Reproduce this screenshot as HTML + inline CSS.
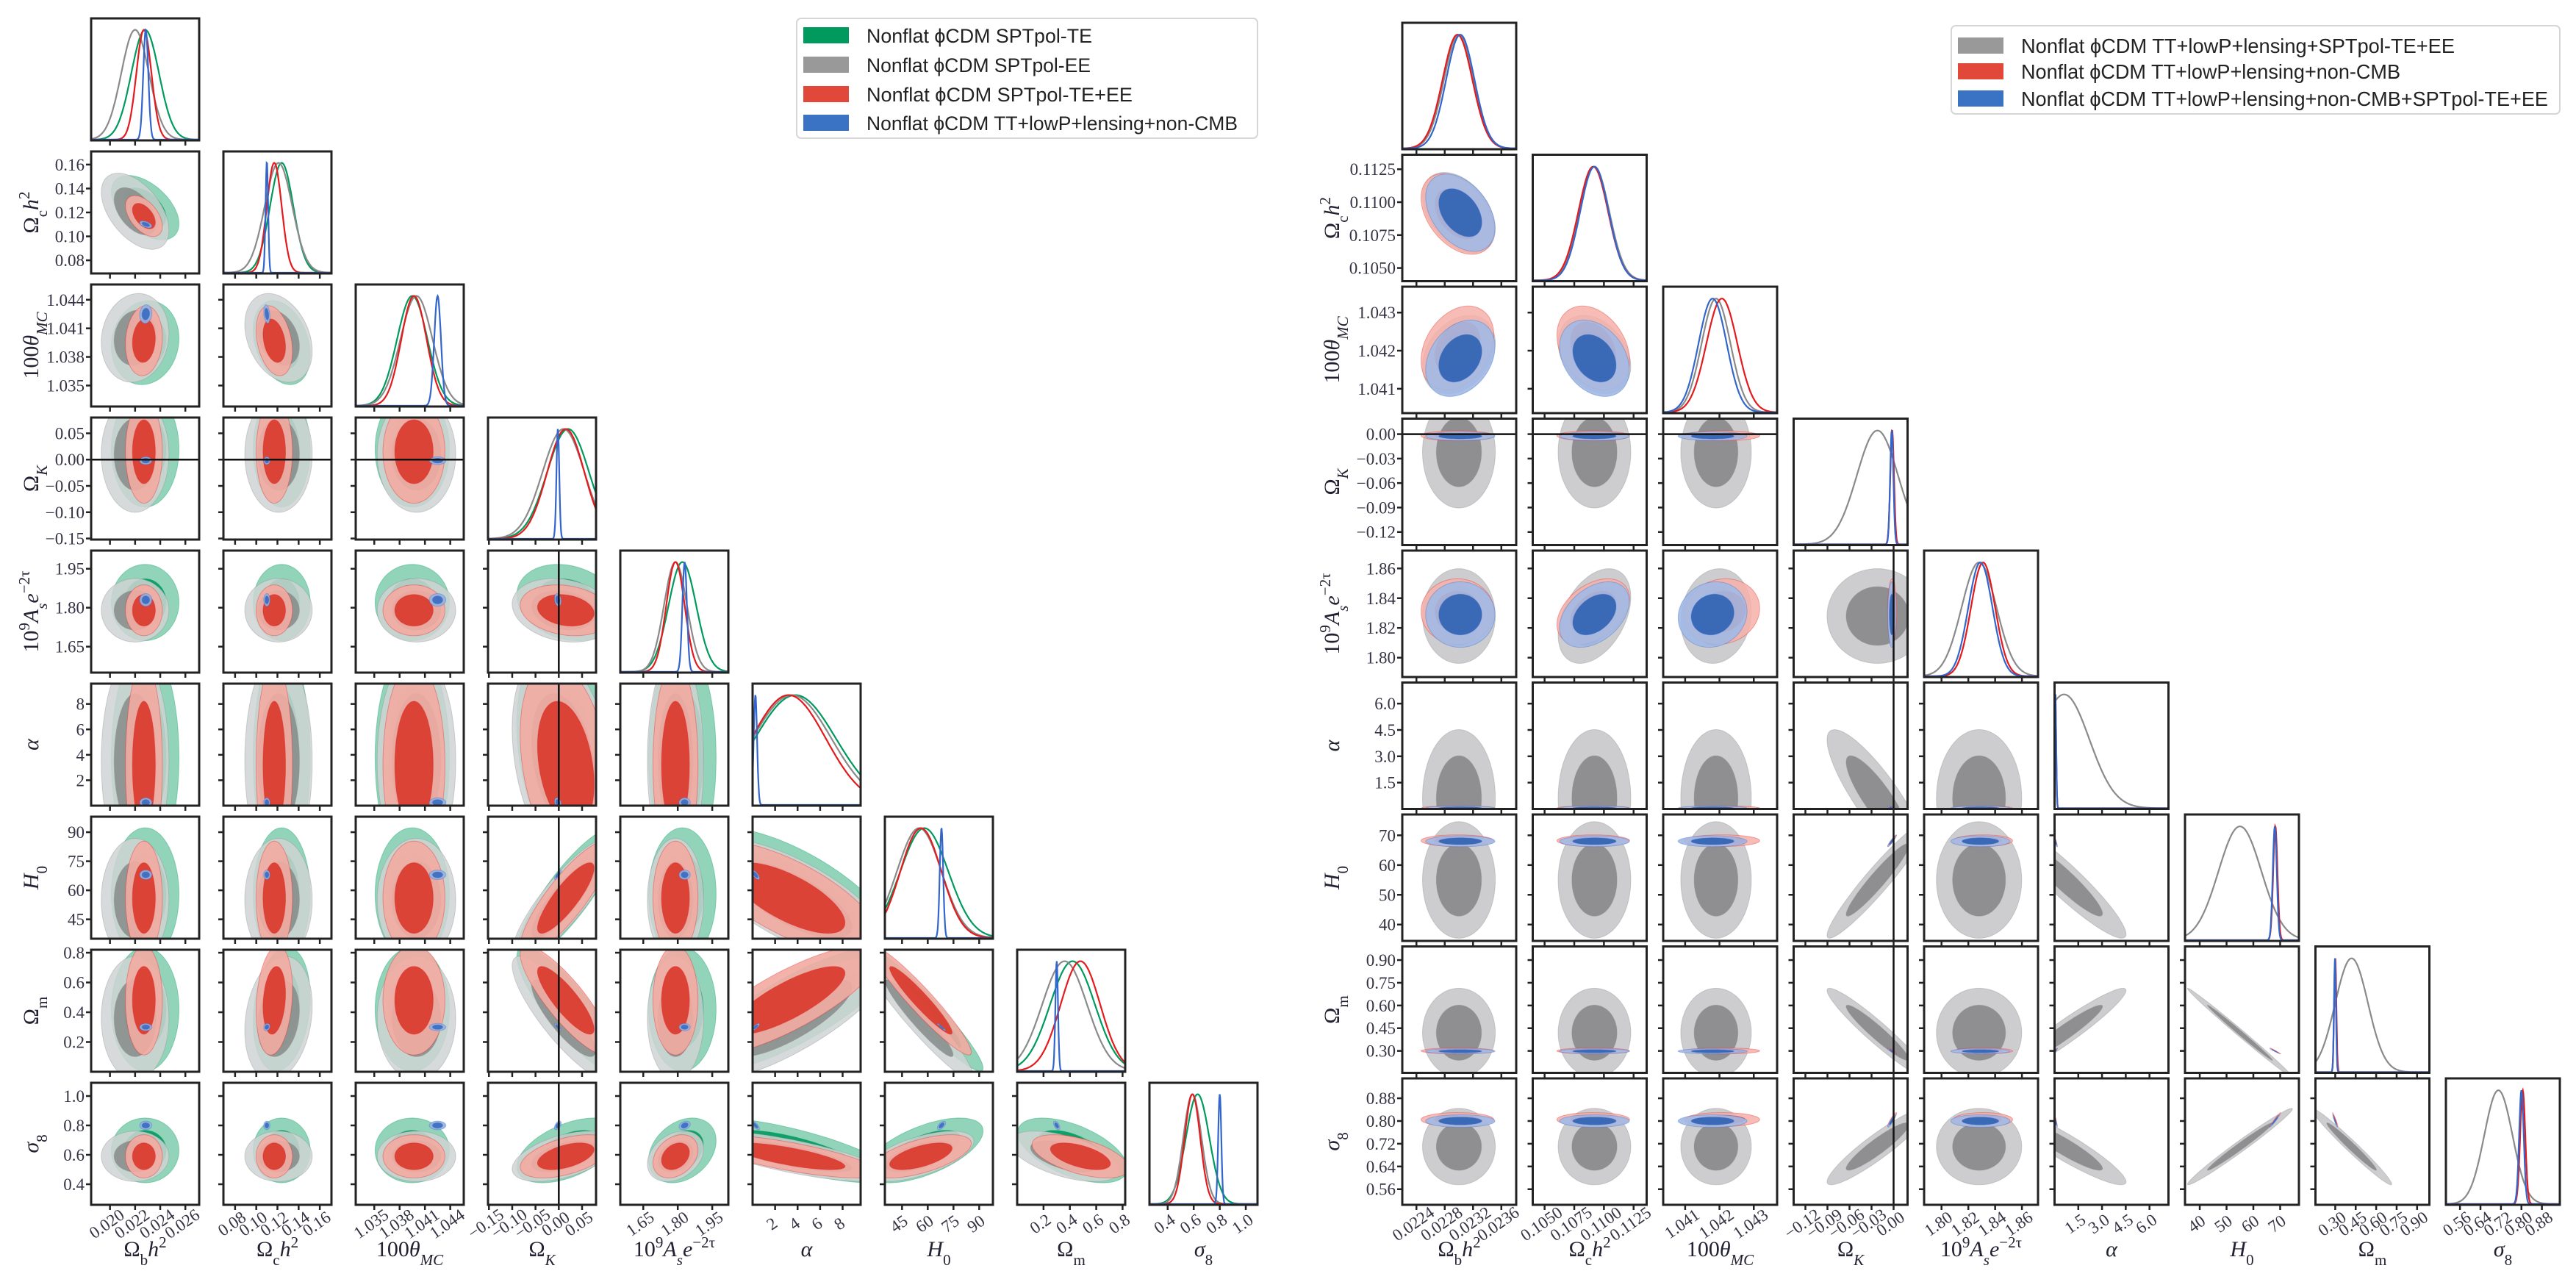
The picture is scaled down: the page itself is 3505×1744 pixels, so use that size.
<!DOCTYPE html>
<html><head><meta charset="utf-8">
<style>
html,body{margin:0;padding:0;background:#fff;}
svg{display:block;}
text{font-family:"Liberation Serif",serif;}
.leg{font-family:"Liberation Sans",sans-serif;}
</style></head>
<body>
<svg id="fig" width="3505" height="1744" viewBox="0 0 3505 1744" xmlns="http://www.w3.org/2000/svg">
<rect x="0" y="0" width="3505" height="1744" fill="#fff"/>
<g>
<rect x="1084" y="25" width="627" height="163" rx="6" fill="#fff" stroke="#d6d6d6" stroke-width="2"/>
<rect x="1093" y="37" width="62" height="22" fill="#009a5e"/>
<text class="leg" x="1179" y="58" font-size="27" fill="#222" textLength="307" lengthAdjust="spacingAndGlyphs">Nonflat ϕCDM SPTpol-TE</text>
<rect x="1093" y="77" width="62" height="22" fill="#999"/>
<text class="leg" x="1179" y="98" font-size="27" fill="#222" textLength="305" lengthAdjust="spacingAndGlyphs">Nonflat ϕCDM SPTpol-EE</text>
<rect x="1093" y="117" width="62" height="22" fill="#e2483a"/>
<text class="leg" x="1179" y="138" font-size="27" fill="#222" textLength="362" lengthAdjust="spacingAndGlyphs">Nonflat ϕCDM SPTpol-TE+EE</text>
<rect x="1093" y="156" width="62" height="22" fill="#3b73c4"/>
<text class="leg" x="1179" y="177" font-size="27" fill="#222" textLength="505" lengthAdjust="spacingAndGlyphs">Nonflat ϕCDM TT+lowP+lensing+non-CMB</text>
</g>
<g>
<rect x="2655" y="35" width="828" height="120" rx="6" fill="#fff" stroke="#d6d6d6" stroke-width="2"/>
<rect x="2664" y="51" width="62" height="22" fill="#999"/>
<text class="leg" x="2750" y="72" font-size="28" fill="#222" textLength="590" lengthAdjust="spacingAndGlyphs">Nonflat ϕCDM TT+lowP+lensing+SPTpol-TE+EE</text>
<rect x="2664" y="86" width="62" height="22" fill="#e2483a"/>
<text class="leg" x="2750" y="107" font-size="28" fill="#222" textLength="516" lengthAdjust="spacingAndGlyphs">Nonflat ϕCDM TT+lowP+lensing+non-CMB</text>
<rect x="2664" y="123" width="62" height="22" fill="#3b73c4"/>
<text class="leg" x="2750" y="144" font-size="28" fill="#222" textLength="717" lengthAdjust="spacingAndGlyphs">Nonflat ϕCDM TT+lowP+lensing+non-CMB+SPTpol-TE+EE</text>
</g>
</svg>
<script>
const paramLabels = [
 'Ω<tspan baseline-shift="sub" font-size="70%">b</tspan><tspan font-style="italic">h</tspan><tspan baseline-shift="super" font-size="70%">2</tspan>',
 'Ω<tspan baseline-shift="sub" font-size="70%">c</tspan><tspan font-style="italic">h</tspan><tspan baseline-shift="super" font-size="70%">2</tspan>',
 '100<tspan font-style="italic">θ</tspan><tspan baseline-shift="sub" font-size="70%" font-style="italic">MC</tspan>',
 'Ω<tspan baseline-shift="sub" font-size="70%" font-style="italic">K</tspan>',
 '10<tspan baseline-shift="super" font-size="70%">9</tspan><tspan font-style="italic">A</tspan><tspan baseline-shift="sub" font-size="70%" font-style="italic">s</tspan><tspan font-style="italic">e</tspan><tspan baseline-shift="super" font-size="70%">−2τ</tspan>',
 '<tspan font-style="italic">α</tspan>',
 '<tspan font-style="italic">H</tspan><tspan baseline-shift="sub" font-size="70%">0</tspan>',
 'Ω<tspan baseline-shift="sub" font-size="70%">m</tspan>',
 '<tspan font-style="italic">σ</tspan><tspan baseline-shift="sub" font-size="70%">8</tspan>'
];
const paramNames = ['omega-b','omega-c','theta-mc','omega-k','amplitude','alpha','h0','omega-m','sigma8'];

// ---------- LEFT triangle data ----------
const leftLo = [0.0185, 0.069, 1.0328, -0.152, 1.55, 0.0, 35, 0.0, 0.26];
const leftHi = [0.0271, 0.171, 1.0456, 0.080, 2.02, 9.6, 98, 0.82, 1.09];
const leftTicks = [[0.020,0.022,0.024,0.026],[0.08,0.10,0.12,0.14,0.16],[1.035,1.038,1.041,1.044],[-0.15,-0.10,-0.05,0.00,0.05],[1.65,1.80,1.95],[2,4,6,8],[45,60,75,90],[0.2,0.4,0.6,0.8],[0.4,0.6,0.8,1.0]];
const leftTickLabels = [['0.020','0.022','0.024','0.026'],['0.08','0.10','0.12','0.14','0.16'],['1.035','1.038','1.041','1.044'],['−0.15','−0.10','−0.05','0.00','0.05'],['1.65','1.80','1.95'],['2','4','6','8'],['45','60','75','90'],['0.2','0.4','0.6','0.8'],['0.4','0.6','0.8','1.0']];
const greenMean = [0.0228, 0.124, 1.0395, 0.02, 1.82, 3.8, 58, 0.42, 0.63];
const greenSig  = [0.0011, 0.011, 0.0018, 0.045, 0.06, 3.6, 14, 0.17, 0.09];
const grayMean  = [0.0220, 0.121, 1.0400, 0.01, 1.79, 3.5, 55, 0.36, 0.59];
const graySig   = [0.0011, 0.013, 0.0019, 0.045, 0.05, 3.5, 13, 0.17, 0.07];
const redMean   = [0.0227, 0.117, 1.0397, 0.015, 1.79, 3.2, 56, 0.48, 0.59];
const redSig    = [0.0006, 0.007, 0.0015, 0.040, 0.04, 3.3, 12, 0.15, 0.06];
const blueMean  = [0.02285, 0.110, 1.0425, -0.002, 1.83, 0.25, 68, 0.30, 0.80];
const blueSig   = [0.0002, 0.0012, 0.0004, 0.003, 0.010, 0.15, 1.0, 0.010, 0.012];
const leftCorr = [[0,1,-0.5],[0,2,0.1],[1,2,-0.3],[3,6,0.85],[3,7,-0.85],[3,8,0.5],[3,5,-0.3],[5,6,-0.7],[5,7,0.8],[5,8,-0.75],[6,7,-0.95],[6,8,0.6],[7,8,-0.55],[1,7,0.2],[4,8,0.3],[3,4,-0.2]];

// ---------- RIGHT triangle data ----------
const rightLo = [0.02220, 0.1040, 1.04036, -0.136, 1.787, 0.0, 34.5, 0.155, 0.505];
const rightHi = [0.02381, 0.1136, 1.04368, 0.019, 1.872, 7.2, 77.0, 0.99, 0.950];
const rightTicks = [[0.0224,0.0228,0.0232,0.0236],[0.1050,0.1075,0.1100,0.1125],[1.041,1.042,1.043],[-0.12,-0.09,-0.06,-0.03,0.00],[1.80,1.82,1.84,1.86],[1.5,3.0,4.5,6.0],[40,50,60,70],[0.30,0.45,0.60,0.75,0.90],[0.56,0.64,0.72,0.80,0.88]];
const rightTickLabels = [['0.0224','0.0228','0.0232','0.0236'],['0.1050','0.1075','0.1100','0.1125'],['1.041','1.042','1.043'],['−0.12','−0.09','−0.06','−0.03','0.00'],['1.80','1.82','1.84','1.86'],['1.5','3.0','4.5','6.0'],['40','50','60','70'],['0.30','0.45','0.60','0.75','0.90'],['0.56','0.64','0.72','0.80','0.88']];
const rGrayMean = [0.02300, 0.1092, 1.0419, -0.022, 1.828, 0.6, 55, 0.42, 0.71];
const rGraySig  = [0.00021, 0.00125, 0.00042, 0.028, 0.013, 1.6, 8, 0.12, 0.055];
const rRedMean  = [0.02298, 0.1091, 1.04207, -0.002, 1.831, 0.05, 68.2, 0.300, 0.805];
const rRedSig   = [0.00021, 0.00125, 0.00045, 0.0025, 0.009, 0.05, 0.8, 0.008, 0.010];
const rBlueMean = [0.02302, 0.1092, 1.0418, -0.0025, 1.829, 0.05, 68.0, 0.298, 0.800];
const rBlueSig  = [0.00020, 0.00120, 0.00041, 0.0022, 0.009, 0.05, 0.75, 0.007, 0.009];
const rightCorr = [[0,1,-0.4],[0,2,0.3],[1,2,-0.3],[1,4,0.4],[2,4,0.1],[3,5,-0.85],[3,6,0.95],[3,7,-0.95],[3,8,0.92],[5,6,-0.93],[5,7,0.95],[5,8,-0.92],[6,7,-0.995],[6,8,0.985],[7,8,-0.98]];

const NS = 'http://www.w3.org/2000/svg';
const svg = document.getElementById('fig');
function mk(tag, attrs, parent){
  const e = document.createElementNS(NS, tag);
  for (const k in attrs) e.setAttribute(k, attrs[k]);
  (parent||svg).appendChild(e);
  return e;
}
function corrOf(list,i,j){
  for (const c of list){ if ((c[0]===i&&c[1]===j)||(c[0]===j&&c[1]===i)) return c[2]; }
  return 0;
}

function drawGrid(cfg){
  const n = 9;
  const root = mk('g', {});
  
  
  const px = (j)=>cfg.x0 + j*cfg.px;
  const py = (i)=>cfg.y0 + i*cfg.py;
  const sx = (j,v)=>px(j) + (v-cfg.lo[j])/(cfg.hi[j]-cfg.lo[j])*cfg.w;
  const sy = (i,v)=>py(i) + cfg.h - (v-cfg.lo[i])/(cfg.hi[i]-cfg.lo[i])*cfg.h;
  for (let i=0;i<n;i++){
    for (let j=0;j<=i;j++){
      const g = mk('g', {}, root);
      
      
      const cid = cfg.name+'-clip-'+i+'-'+j;
      const cp = mk('clipPath', {id:cid}, g);
      mk('rect', {x:px(j), y:py(i), width:cfg.w, height:cfg.h}, cp);
      const inner = mk('g', {'clip-path':'url(#'+cid+')'}, g);
      if (i===j){
        for (const ds of cfg.datasets){
          const pts=[]; let mx=0; const vals=[];
          for (let k=0;k<=240;k++){
            const v = cfg.lo[j] + (cfg.hi[j]-cfg.lo[j])*k/240;
            const z=(v-ds.mean[j])/ds.sig[j];
            const f=Math.exp(-0.5*z*z); vals.push([v,f]); if(f>mx) mx=f;
          }
          for (const [v,f] of vals){ pts.push(sx(j,v).toFixed(1)+','+(py(i)+cfg.h-1 - f/mx*cfg.h*0.9).toFixed(1)); }
          const pl = mk('polyline', {points:pts.join(' '), fill:'none', stroke:ds.line, 'stroke-width':2.2}, inner);
          
          
        }
      } else {
        const rho = corrOf(cfg.corr, j, i);
        for (const ds of cfg.datasets){
          for (const lev of [[2.45, ds.outer],[1.52, ds.inner]]){
            const pts=[];
            for (let k=0;k<72;k++){
              const t=2*Math.PI*k/72, u=Math.cos(t), w=Math.sin(t);
              const xv = ds.mean[j] + lev[0]*ds.sig[j]*u;
              const yv = ds.mean[i] + lev[0]*ds.sig[i]*(rho*u + Math.sqrt(1-rho*rho)*w);
              pts.push(sx(j,xv).toFixed(1)+','+sy(i,yv).toFixed(1));
            }
            const pg = mk('polygon', {points:pts.join(' '), fill:lev[1], 'fill-opacity':ds.op, stroke:ds.line, 'stroke-opacity':0.35, 'stroke-width':1}, inner);
            
            
          }
        }
        if (j===3){
          const vl = mk('line', {x1:sx(j,0), x2:sx(j,0), y1:py(i), y2:py(i)+cfg.h, stroke:'#111', 'stroke-width':2.5}, inner);
          
          
        }
        if (i===3){
          const hl = mk('line', {x1:px(j), x2:px(j)+cfg.w, y1:sy(i,0), y2:sy(i,0), stroke:'#111', 'stroke-width':2.5}, inner);
          
          
        }
        cfg.ticks[i].forEach((tv)=>{
          const y = sy(i,tv);
          if (y<py(i)||y>py(i)+cfg.h) return;
          mk('line', {x1:px(j)-7, x2:px(j), y1:y, y2:y, stroke:'#222', 'stroke-width':2.5}, g);
        });
      }
      cfg.ticks[j].forEach((tv)=>{
        const x = sx(j,tv);
        if (x<px(j)-1||x>px(j)+cfg.w+1) return;
        mk('line', {x1:x, x2:x, y1:py(i)+cfg.h, y2:py(i)+cfg.h+7, stroke:'#222', 'stroke-width':2.5}, g);
      });
      const fr = mk('rect', {x:px(j), y:py(i), width:cfg.w, height:cfg.h, fill:'none', stroke:'#222', 'stroke-width':3}, g);
      
      
    }
  }
  for (let i=1;i<n;i++){
    cfg.ticks[i].forEach((tv,k)=>{
      const y = sy(i,tv);
      if (y<py(i)-2||y>py(i)+cfg.h+2) return;
      const t = mk('text', {x:cfg.x0-9, y:y+8, 'text-anchor':'end', 'font-size':23, fill:'#334'}, root);
      t.textContent = cfg.tickLabels[i][k];
      
      
    });
    const cy = py(i)+cfg.h/2;
    const rl = mk('text', {x:cfg.rowLabelX, y:cy, 'text-anchor':'middle', 'font-size':30, fill:'#223', transform:'rotate(-90 '+cfg.rowLabelX+' '+cy+')'}, root);
    rl.innerHTML = paramLabels[i];
    
    
  }
  const yb = py(n-1)+cfg.h;
  for (let j=0;j<n;j++){
    cfg.ticks[j].forEach((tv,k)=>{
      const x = sx(j,tv);
      if (x<px(j)-2||x>px(j)+cfg.w+2) return;
      const ty = yb+32;
      const t = mk('text', {x:x, y:ty, 'text-anchor':'middle', 'font-size':23, fill:'#334', transform:'rotate(-35 '+x+' '+ty+')'}, root);
      t.textContent = cfg.tickLabels[j][k];
      
      
    });
    const cx = px(j)+cfg.w/2;
    const cl = mk('text', {x:cx, y:yb+70, 'text-anchor':'middle', 'font-size':30, fill:'#223'}, root);
    cl.innerHTML = paramLabels[j];
    
    
  }
}

drawGrid({name:'left-triangle', x0:124, px:180, w:147, y0:25, py:181, h:166, rowLabelX:52,
  lo:leftLo, hi:leftHi, ticks:leftTicks, tickLabels:leftTickLabels, corr:leftCorr,
  datasets:[
    {key:'te', mean:greenMean, sig:greenSig, outer:'#86cfb1', inner:'#009a5e', line:'#009a5e', op:0.9},
    {key:'ee', mean:grayMean, sig:graySig, outer:'#cfd3d3', inner:'#858b89', line:'#8a8a8a', op:0.85},
    {key:'teee', mean:redMean, sig:redSig, outer:'#f2aba2', inner:'#d8372a', line:'#e41a1c', op:0.9},
    {key:'noncmb', mean:blueMean, sig:blueSig, outer:'#93b0e0', inner:'#3a6bc0', line:'#3366cc', op:0.9}
  ]});
drawGrid({name:'right-triangle', x0:1908, px:177.5, w:155, y0:31, py:179.5, h:172, rowLabelX:1822,
  lo:rightLo, hi:rightHi, ticks:rightTicks, tickLabels:rightTickLabels, corr:rightCorr,
  datasets:[
    {key:'sptpol', mean:rGrayMean, sig:rGraySig, outer:'#cdcdcf', inner:'#8f8f91', line:'#8a8a8a', op:1},
    {key:'noncmb', mean:rRedMean, sig:rRedSig, outer:'#f5b0a8', inner:'#e0473a', line:'#e41a1c', op:0.85},
    {key:'combined', mean:rBlueMean, sig:rBlueSig, outer:'#a2b9e4', inner:'#2d62b3', line:'#3366cc', op:0.9}
  ]});
</script>
</body></html>
